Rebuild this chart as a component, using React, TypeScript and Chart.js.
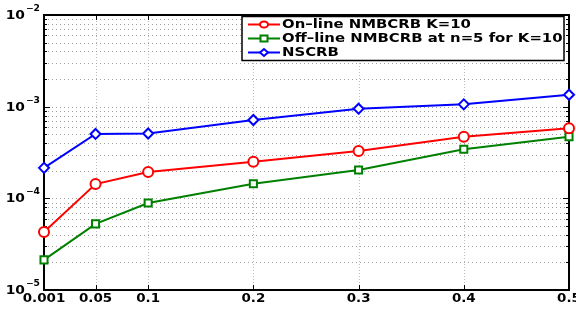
import React, { useEffect, useRef } from "react";
import { Chart, registerables } from "chart.js";

Chart.register(...registerables);

const xValues = [0.001, 0.05, 0.1, 0.2, 0.3, 0.4, 0.5];
const xTickLabels = ["0.001", "0.05", "0.1", "0.2", "0.3", "0.4", "0.5"];
const yDecades = [-5, -4, -3, -2];

const onlineNMBCRB = [4.3e-5, 1.43e-4, 1.94e-4, 2.51e-4, 3.29e-4, 4.71e-4, 5.8e-4];
const offlineNMBCRB = [2.13e-5, 5.26e-5, 8.9e-5, 1.44e-4, 2.04e-4, 3.43e-4, 4.71e-4];
const nscrb = [2.15e-4, 5.04e-4, 5.1e-4, 7.16e-4, 9.5e-4, 1.06e-3, 1.35e-3];

const seriesLabels = [
  "On\u2013line NMBCRB K=10",
  "Off\u2013line NMBCRB at n=5 for K=10",
  "NSCRB",
];
const seriesColors = ["#ff0000", "#008000", "#0000ff"];
const seriesMarkers = ["circle", "rect", "rectRot"];

const FONT = "'DejaVu Sans', sans-serif";

function drawText(
  ctx: CanvasRenderingContext2D,
  s: string,
  x: number,
  y: number,
  font: string,
  sx: number,
  align: CanvasTextAlign
) {
  ctx.save();
  ctx.font = font;
  ctx.translate(x, y);
  ctx.scale(sx, 1);
  ctx.textAlign = align;
  ctx.textBaseline = "middle";
  ctx.fillStyle = "#000";
  ctx.fillText(s, 0, 0);
  ctx.restore();
}

const framePlugin = {
  id: "matlabFrame",
  beforeDatasetsDraw(chart: any) {
    const ctx: CanvasRenderingContext2D = chart.ctx;
    const { left, right, top, bottom } = chart.chartArea;
    const xs = chart.scales.x;
    const ys = chart.scales.y;
    ctx.save();
    // x grid
    ctx.lineWidth = 1;
    ctx.strokeStyle = "#bdbdbd";
    ctx.setLineDash([1, 2]);
    for (const v of xValues) {
      const px = Math.round(xs.getPixelForValue(v)) + 0.5;
      if (px <= left + 1 || px >= right - 1) continue;
      ctx.beginPath();
      ctx.moveTo(px, top);
      ctx.lineTo(px, bottom);
      ctx.stroke();
    }
    // y grid (major + minor)
    ctx.strokeStyle = "#a0a0a0";
    ctx.setLineDash([1, 3]);
    for (let d = -5; d < -2; d++) {
      for (let m = 1; m <= 9; m++) {
        const v = m * Math.pow(10, d);
        const py = Math.round(ys.getPixelForValue(v)) + 0.5;
        if (py <= top + 1 || py >= bottom - 1) continue;
        ctx.beginPath();
        ctx.moveTo(left, py);
        ctx.lineTo(right, py);
        ctx.stroke();
      }
    }
    ctx.setLineDash([]);
    // ticks inward
    ctx.strokeStyle = "#000";
    ctx.lineWidth = 1;
    for (const v of xValues) {
      const px = Math.round(xs.getPixelForValue(v)) + 0.5;
      ctx.beginPath();
      ctx.moveTo(px, bottom);
      ctx.lineTo(px, bottom - 5);
      ctx.moveTo(px, top);
      ctx.lineTo(px, top + 5);
      ctx.stroke();
    }
    for (let d = -5; d <= -2; d++) {
      for (let m = 1; m <= 9; m++) {
        const v = m * Math.pow(10, d);
        if (v > 1e-2 + 1e-12) break;
        const py = Math.round(ys.getPixelForValue(v)) + 0.5;
        const len = m === 1 ? 6 : 3;
        ctx.beginPath();
        ctx.moveTo(left, py);
        ctx.lineTo(left + len, py);
        ctx.moveTo(right, py);
        ctx.lineTo(right - len, py);
        ctx.stroke();
      }
    }
    // box
    ctx.lineWidth = 2;
    ctx.strokeRect(left, top, right - left, bottom - top);
    ctx.restore();
  },
  afterDraw(chart: any) {
    const ctx: CanvasRenderingContext2D = chart.ctx;
    const { left, bottom } = chart.chartArea;
    const xs = chart.scales.x;
    const ys = chart.scales.y;
    // x tick labels
    xValues.forEach((v, i) => {
      const px = xs.getPixelForValue(v);
      drawText(ctx, xTickLabels[i], px, bottom + 9, `bold 12px ${FONT}`, 1.12, "center");
    });
    // y tick labels 10^n
    for (const d of yDecades) {
      const py = ys.getPixelForValue(Math.pow(10, d));
      const exp = "\u2212" + String(-d);
      ctx.save();
      ctx.font = `bold 8px ${FONT}`;
      const ew = ctx.measureText(exp).width * 1.15;
      ctx.restore();
      const xr = left - 4;
      drawText(ctx, exp, xr - ew, py - 6, `bold 8px ${FONT}`, 1.15, "left");
      drawText(ctx, "10", xr - ew - 1, py + 1, `bold 12px ${FONT}`, 1.15, "right");
    }
    // legend
    const lx = 242;
    const ly = 16.5;
    const lw = 322;
    const lh = 44;
    ctx.save();
    ctx.fillStyle = "#fff";
    ctx.fillRect(lx, ly, lw, lh);
    ctx.strokeStyle = "#000";
    ctx.lineWidth = 1.5;
    ctx.strokeRect(lx, ly, lw, lh);
    ctx.restore();
    const rows = [24.5, 38.5, 52.5];
    seriesLabels.forEach((lab, i) => {
      const y = rows[i];
      ctx.save();
      ctx.strokeStyle = seriesColors[i];
      ctx.lineWidth = 2;
      ctx.beginPath();
      ctx.moveTo(248, y);
      ctx.lineTo(280, y);
      ctx.stroke();
      ctx.fillStyle = "#fff";
      ctx.beginPath();
      const cx = 264;
      if (seriesMarkers[i] === "circle") {
        ctx.ellipse(cx, y, 4, 3, 0, 0, Math.PI * 2);
      } else if (seriesMarkers[i] === "rect") {
        ctx.rect(cx - 3.5, y - 3, 7, 6);
      } else {
        ctx.moveTo(cx - 4, y);
        ctx.lineTo(cx, y - 3.5);
        ctx.lineTo(cx + 4, y);
        ctx.lineTo(cx, y + 3.5);
        ctx.closePath();
      }
      ctx.fill();
      ctx.stroke();
      ctx.restore();
      drawText(ctx, lab, 282, y + 0.5, `bold 12px ${FONT}`, 1.24, "left");
    });
  },
};

export default function App() {
  const ref = useRef<HTMLCanvasElement | null>(null);
  useEffect(() => {
    if (!ref.current) return;
    const mk = (vals: number[]) => xValues.map((x, i) => ({ x, y: vals[i] }));
    const all = [onlineNMBCRB, offlineNMBCRB, nscrb];
    const chart = new Chart(ref.current, {
      type: "line",
      data: {
        datasets: all.map((vals, i) => ({
          label: seriesLabels[i],
          data: mk(vals),
          borderColor: seriesColors[i],
          backgroundColor: "#ffffff",
          pointBackgroundColor: "#ffffff",
          pointBorderColor: seriesColors[i],
          pointStyle: seriesMarkers[i] as any,
          pointRadius: 5,
          pointBorderWidth: 2,
          borderWidth: 2,
          fill: false,
          tension: 0,
          clip: false as any,
        })),
      },
      options: {
        animation: false,
        responsive: false,
        layout: { padding: { left: 44, right: 5, top: 15, bottom: 22 } },
        plugins: { legend: { display: false }, tooltip: { enabled: false } },
        scales: {
          x: {
            type: "linear",
            min: 0.001,
            max: 0.5,
            ticks: { display: false },
            grid: { display: false, drawTicks: false },
            border: { display: false },
          },
          y: {
            type: "logarithmic",
            min: 1e-5,
            max: 1e-2,
            ticks: { display: false },
            grid: { display: false, drawTicks: false },
            border: { display: false },
          },
        },
      },
      plugins: [framePlugin],
    });
    return () => chart.destroy();
  }, []);
  return (
    <div style={{ position: "absolute", left: 0, top: 0, width: 576, height: 312, background: "#fff" }}>
      <canvas ref={ref} width={576} height={312} style={{ display: "block" }} />
    </div>
  );
}
